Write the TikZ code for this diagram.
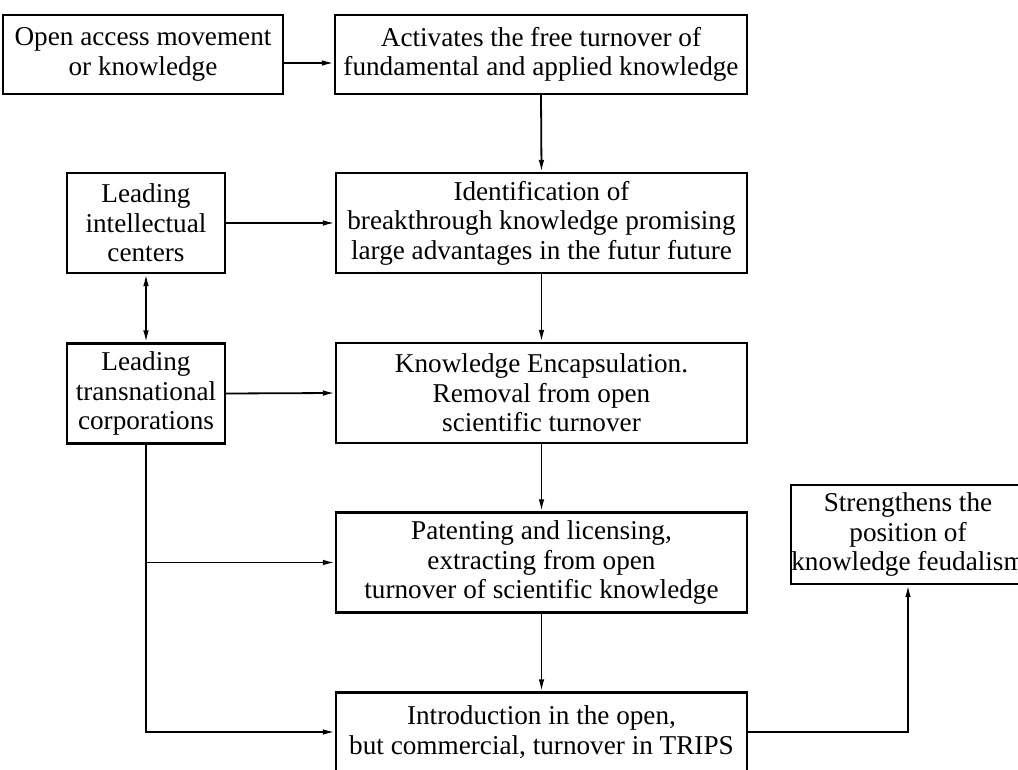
\documentclass[tikz,border=0pt]{standalone}
\usepackage{fontspec}
\setmainfont{Liberation Serif}
\usepackage{tikz}
\usetikzlibrary{arrows.meta}

\begin{document}
\begin{tikzpicture}[x=0.5pt,y=-0.5pt,
    box/.style={draw,line width=1.1pt,align=center,inner sep=0pt,
      font=\fontsize{13.6pt}{14.8pt}\selectfont},
    widebox/.style={box,minimum width=205.5pt,minimum height=50pt},
    sidebox/.style={box,minimum width=79pt,minimum height=50pt},
    conn/.style={line width=0.9pt,-{Latex[length=6pt,width=2.8pt]}},
    dblconn/.style={line width=0.9pt,{Latex[length=6pt,width=2.8pt]}-{Latex[length=6pt,width=2.8pt]}}]

      % Page frame
      \useasboundingbox (0,0) rectangle (1018,770);

      % Top row
      \node[box,minimum width=140pt,minimum height=39.5pt] (open) at (143,54.5)
        {Open access movement\\or knowledge};
      \node[box,minimum width=206pt,minimum height=39.5pt] (activ) at (541,54.5)
        {Activates the free turnover of\\fundamental and applied knowledge};

      % Left column
      \node[sidebox] (lic) at (146,223) {Leading\\intellectual\\centers};
      \node[sidebox] (tnc) at (146,393.5) {Leading\\transnational\\corporations};

      % Main column
      \node[widebox] (ident) at (541.5,223)
        {Identification of\\breakthrough knowledge promising\\large advantages in the futur future};
      \node[widebox] (encap) at (541.5,393)
        {Knowledge Encapsulation.\\Removal from open\\scientific turnover};
      \node[widebox] (patent) at (541.5,562.5)
        {Patenting and licensing,\\extracting from open\\turnover of scientific knowledge};
      \node[box,minimum width=205.5pt,minimum height=39.5pt] (intro) at (541.5,732)
        {Introduction in the open,\\but commercial, turnover in TRIPS};

      % Result
      \node[box,minimum width=117pt,minimum height=49.5pt] (strength) at (908,534.5)
        {Strengthens the\\position of\\knowledge feudalism};

      % Arrows
      \draw[conn] ([yshift=-4.25pt]open.east) -- ([yshift=-4.25pt]activ.west);
      \draw[conn] (activ.south) -- (ident.north);
      \draw[conn] (lic.east) -- (ident.west);
      \draw[dblconn] (lic.south) -- (tnc.north);
      \draw[conn] (ident.south) -- (encap.north);
      \draw[conn] (tnc.east) -- (encap.west);
      \draw[conn] (encap.south) -- (patent.north);
      \draw[conn] (patent.south) -- (intro.north);
      \draw[conn] (tnc.south) |- (intro.west);
      \draw[conn] (tnc.south |- patent.west) -- (patent.west);
      \draw[conn] (intro.east) -| (strength.south);

\end{tikzpicture}
\end{document}
